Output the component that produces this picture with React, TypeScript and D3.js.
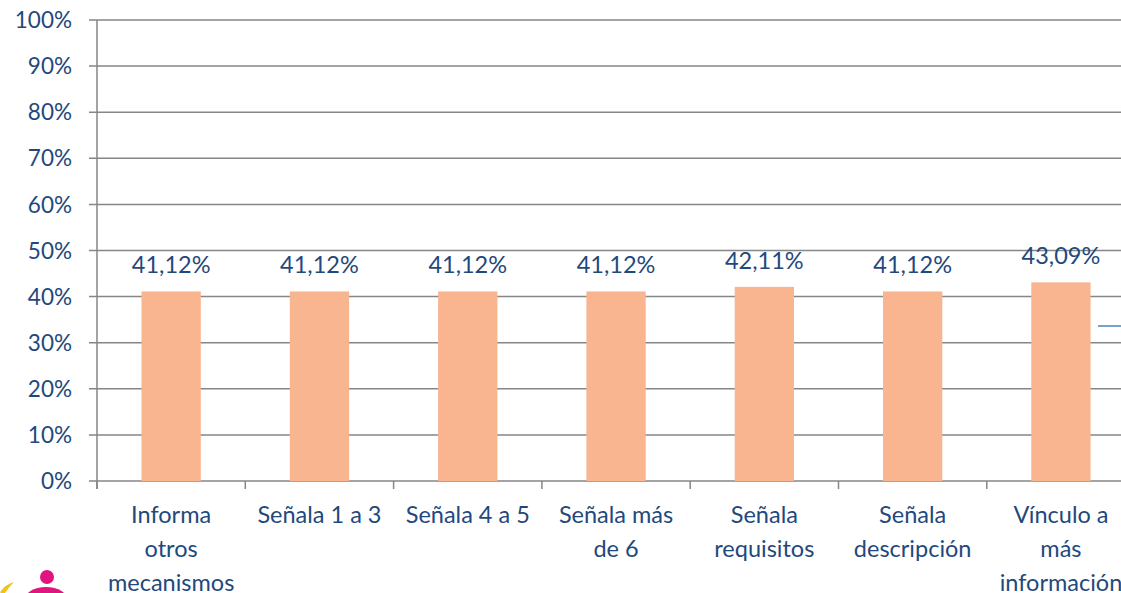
import React from "react";
import * as d3 from "d3";

const categories = [
  "Informa\notros\nmecanismos",
  "Señala 1 a 3",
  "Señala 4 a 5",
  "Señala más\nde 6",
  "Señala\nrequisitos",
  "Señala\ndescripción",
  "Vínculo a\nmás\ninformación",
];
const values = [41.12, 41.12, 41.12, 41.12, 42.11, 41.12, 43.09];
const yTicks = [0, 10, 20, 30, 40, 50, 60, 70, 80, 90, 100];

const W = 1121;
const H = 593;
const FONT = "Lato, 'Open Sans', sans-serif";
const TEXT = "#1F497D";
const GRID = "#868686";

export default function App() {
  const axisX = 97;
  const band = 148.3;
  const x = d3
    .scaleBand<string>()
    .domain(categories)
    .range([axisX, axisX + band * categories.length])
    .paddingInner(0.6)
    .paddingOuter(0.3);
  const y = d3.scaleLinear().domain([0, 100]).range([481, 20]);
  const fmt = (v: number) => v.toFixed(2).replace(".", ",") + "%";
  const step = x.step();
  const x0 = x.range()[0];

  return (
    <svg
      width={W}
      height={H}
      style={{ position: "fixed", left: 0, top: 0, background: "#fff" }}
      fontFamily={FONT}
    >
      {yTicks.map((t) => (
        <g key={t}>
          <line x1={89} x2={W} y1={y(t)} y2={y(t)} stroke={GRID} strokeWidth={1.5} />
          <text x={72} y={y(t)} dy="0.36em" textAnchor="end" fontSize={22.5} fill={TEXT}>
            {t}%
          </text>
        </g>
      ))}
      <line x1={axisX} x2={axisX} y1={y(100)} y2={y(0) + 8} stroke={GRID} strokeWidth={1.5} />
      {categories.map((c, i) => (
        <line
          key={"tk" + i}
          x1={x0 + step * i}
          x2={x0 + step * i}
          y1={y(0)}
          y2={y(0) + 8}
          stroke={GRID}
          strokeWidth={1.5}
        />
      ))}
      {categories.map((c, i) => {
        const bx = x(c)!;
        const bw = x.bandwidth();
        return (
          <g key={c}>
            <rect x={bx} y={y(values[i])} width={bw} height={y(0) - y(values[i])} fill="#F9B590" />
            <text
              x={bx + bw / 2}
              y={y(values[i]) - 18}
              textAnchor="middle"
              fontSize={23.5}
              fill={TEXT}
            >
              {fmt(values[i])}
            </text>
            <text x={bx + bw / 2} y={523} textAnchor="middle" fontSize={23.5} fill={TEXT}>
              {c.split("\n").map((line, j) => (
                <tspan key={j} x={bx + bw / 2} dy={j === 0 ? 0 : 34}>
                  {line}
                </tspan>
              ))}
            </text>
          </g>
        );
      })}
      <line x1={1098} x2={W} y1={326} y2={326} stroke="#4F81BD" strokeWidth={1.5} />
      <g>
        <circle cx={47} cy={577} r={7} fill="#E0157F" />
        <ellipse cx={46} cy={601} rx={22} ry={14} fill="#E0157F" />
        <path d="M0,592 Q6,584 14,582 Q8,588 3,596 Z" fill="#F3C318" />
      </g>
    </svg>
  );
}
